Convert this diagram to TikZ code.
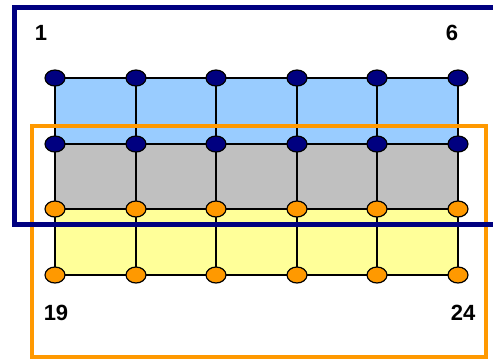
\documentclass[tikz,border=0pt]{standalone}
\usepackage{fontspec}
\setmainfont{Liberation Sans}
\usetikzlibrary{shapes.geometric}
\definecolor{navy}{HTML}{000080}
\definecolor{orng}{HTML}{FF9900}
\definecolor{lblue}{HTML}{99CCFF}
\definecolor{lgray}{HTML}{C0C0C0}
\definecolor{lyel}{HTML}{FFFF99}
\tikzset{
  dot/.style={ellipse, draw=black, line width=1.2pt, minimum width=20pt, minimum height=16pt, inner sep=0pt},
  bluedot/.style={dot, fill=navy},
  orangedot/.style={dot, fill=orng},
  gridline/.style={draw=black, line width=1.3pt},
  lbl/.style={font=\fontsize{22}{24}\selectfont\bfseries, inner sep=0pt}
}
\begin{document}
\begin{tikzpicture}[x=1pt,y=-1pt]
\useasboundingbox (0,0) rectangle (493,360);
% fills
\fill[lblue] (55,78) rectangle (458,144);
\fill[lgray] (55,144) rectangle (458,209);
\fill[lyel] (55,209) rectangle (458,275);
% nodes (coordinates)
\foreach \r/\y in {0/78,1/144,2/209,3/275}{
  \foreach \c/\x in {1/55,2/136,3/216,4/297,5/377,6/458}{
    \pgfmathtruncatemacro{\n}{\r*6+\c}
    \coordinate (p\n) at (\x,\y);
  }
}
% grid lines
\foreach \r in {0,1,2,3}{
  \foreach \c in {1,...,5}{
    \pgfmathtruncatemacro{\a}{\r*6+\c}
    \pgfmathtruncatemacro{\b}{\r*6+\c+1}
    \draw[gridline] (p\a) -- (p\b);
  }
}
\foreach \r in {0,1,2}{
  \foreach \c in {1,...,6}{
    \pgfmathtruncatemacro{\a}{\r*6+\c}
    \pgfmathtruncatemacro{\b}{\r*6+\c+6}
    \draw[gridline] (p\a) -- (p\b);
  }
}
% frames
\draw[orng, line width=4pt] (32,126) rectangle (486,357);
\draw[navy, line width=5pt] (493,7.5) -- (14,7.5) -- (14,224) -- (493,224);
% dots
\foreach \n in {1,...,12}{ \node[bluedot] (n\n) at (p\n) {}; }
\foreach \n in {13,...,24}{ \node[orangedot] (n\n) at (p\n) {}; }
% labels
\node[lbl] (l1) at (41,33) {1};
\node[lbl] (l6) at (452,33) {6};
\node[lbl] (l19) at (56,313) {19};
\node[lbl] (l24) at (463,313) {24};
\end{tikzpicture}
\end{document}
